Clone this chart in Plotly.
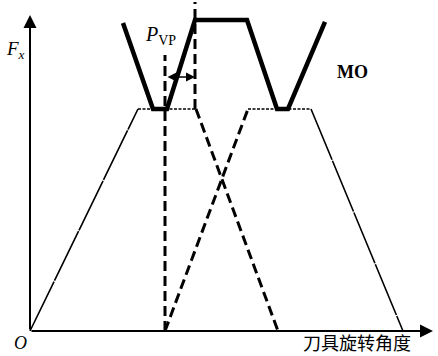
import plotly.graph_objects as go

# Rotation angle (arbitrary units) and cutting force Fx (normalised to trapezoid height)
trap1_angle = [0.0, 10.8, 16.6, 24.8]
trap1_force = [0.0, 1.0, 1.0, 0.0]
trap2_angle = [13.5, 21.8, 28.1, 37.3]
trap2_force = [0.0, 1.0, 1.0, 0.0]

# Combined force curve (MO)
mo_angle = [9.3, 12.3, 13.7, 16.5, 21.7, 24.7, 25.8, 29.5]
mo_force = [1.387, 1.0, 1.0, 1.401, 1.401, 1.0, 1.0, 1.392]

# Vertical reference lines (angle, bottom force, top force)
vline_angle = [13.5, 16.5]
vline_bottom = [0.0, 1.0]
vline_top = [1.243, 1.482]

# Phase-difference span
pvp_angle = [13.6, 16.5]
pvp_force = 1.144

x_axis_end = 40.3
y_axis_end = 1.423

# Pixel mapping of the plotting canvas
W, H = 438, 356
ORIGIN_PX = (30, 331)
PX_PER_X = 10.0
PX_PER_Y = 222.0
x_range = [(0 - ORIGIN_PX[0]) / PX_PER_X, (W - ORIGIN_PX[0]) / PX_PER_X]
y_range = [(ORIGIN_PX[1] - H) / PX_PER_Y, ORIGIN_PX[1] / PX_PER_Y]

thin_side = dict(color="black", width=1.6, dash="55px,1px")
thin_dash = dict(color="black", width=1.4, dash="3px,1.5px")
thick_dash = dict(color="black", width=3, dash="10px,5px")
thick_solid = dict(color="black", width=4.5)

fig = go.Figure()

def seg(xs, ys, line):
    fig.add_trace(go.Scatter(x=xs, y=ys, mode="lines", line=line,
                             hoverinfo="skip", showlegend=False))

# Trapezoid 1
seg(trap1_angle[0:2], trap1_force[0:2], thin_side)
seg(trap1_angle[1:3], trap1_force[1:3], thin_dash)
seg(trap1_angle[2:4], trap1_force[2:4], thick_dash)
# Trapezoid 2
seg(trap2_angle[0:2], trap2_force[0:2], thick_dash)
seg(trap2_angle[1:3], trap2_force[1:3], thin_dash)
seg(trap2_angle[2:4], trap2_force[2:4], thin_side)

# Vertical dashed markers
for a, b, t in zip(vline_angle, vline_bottom, vline_top):
    seg([a, a], [b, t], thick_dash)

# MO curve
fig.add_trace(go.Scatter(x=mo_angle, y=mo_force, mode="lines", line=thick_solid,
                         hoverinfo="skip", showlegend=False))

serif = "Liberation Serif"
annotations = [
    # x axis
    dict(x=x_axis_end, y=0, ax=0, ay=0, xref="x", yref="y", axref="x", ayref="y",
         showarrow=True, arrowhead=2, arrowsize=1.3, arrowwidth=2, arrowcolor="black", text=""),
    # y axis
    dict(x=0, y=y_axis_end, ax=0, ay=0, xref="x", yref="y", axref="x", ayref="y",
         showarrow=True, arrowhead=2, arrowsize=1.3, arrowwidth=2, arrowcolor="black", text=""),
    # phase span
    dict(x=pvp_angle[1], y=pvp_force, ax=pvp_angle[0], ay=pvp_force,
         xref="x", yref="y", axref="x", ayref="y", showarrow=True,
         arrowhead=2, startarrowhead=2, arrowside="end+start", arrowsize=1.2,
         startarrowsize=1.2, arrowwidth=1.5, arrowcolor="black", text=""),
    dict(x=-1.5, y=1.266, text="<i>F</i><sub><i>x</i></sub>", showarrow=False,
         font=dict(family=serif, size=19, color="black")),
    dict(x=13.0, y=1.333, text="<i>P</i><sub>VP</sub>", showarrow=False,
         font=dict(family=serif, size=20, color="black")),
    dict(x=32.2, y=1.167, text="<b>MO</b>", showarrow=False,
         font=dict(family=serif, size=18, color="black")),
    dict(x=-1.0, y=-0.054, text="<i>O</i>", showarrow=False,
         font=dict(family=serif, size=18, color="black")),
    dict(x=32.65, y=-0.05, text="刀具旋转角度", showarrow=False,
         font=dict(family="Noto Sans CJK SC", size=18, color="black")),
]

fig.update_layout(
    width=W, height=H,
    margin=dict(l=0, r=0, t=0, b=0),
    paper_bgcolor="white", plot_bgcolor="white",
    xaxis=dict(range=x_range, visible=False, fixedrange=True),
    yaxis=dict(range=y_range, visible=False, fixedrange=True),
    annotations=annotations,
)

fig.write_html("out.html")
